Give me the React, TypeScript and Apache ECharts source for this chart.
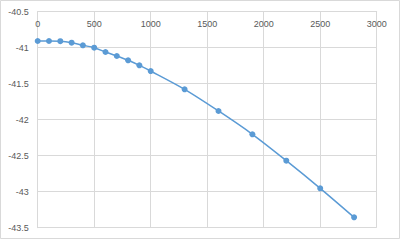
import React, { useEffect, useRef } from "react";
import * as echarts from "echarts";

const xValues = [0, 100, 200, 300, 400, 500, 600, 700, 800, 900, 1000, 1300, 1600, 1900, 2200, 2500, 2800];
const yValues = [-40.907, -40.907, -40.91, -40.93, -40.967, -41.0, -41.06, -41.115, -41.175, -41.245, -41.324, -41.578, -41.879, -42.203, -42.569, -42.953, -43.356];

export default function App() {
  const ref = useRef<HTMLDivElement>(null);
  useEffect(() => {
    const chart = echarts.init(ref.current!, null, { renderer: "svg" });
    const gridColor = "#d9d9d9";
    const labelStyle = { color: "#595959", fontSize: 9, fontFamily: "Liberation Sans, Arial, sans-serif" };
    chart.setOption({
      animation: false,
      backgroundColor: "#fff",
      graphic: [
        {
          type: "rect",
          shape: { x: 0.5, y: 0.5, width: 399, height: 238 },
          style: { fill: "none", stroke: gridColor, lineWidth: 1 },
          silent: true,
        },
      ],
      grid: { left: 37.7, right: 23.3, top: 11.7, bottom: 13.3, containLabel: false },
      xAxis: {
        type: "value",
        position: "top",
        min: 0,
        max: 3000,
        interval: 500,
        axisLine: { show: true, lineStyle: { color: gridColor } },
        axisTick: { show: false },
        axisLabel: { ...labelStyle, inside: true, margin: 8, formatter: (v: number) => String(v) },
        splitLine: { show: true, lineStyle: { color: gridColor } },
      },
      yAxis: {
        type: "value",
        min: -43.5,
        max: -40.5,
        interval: 0.5,
        axisLine: { show: true, lineStyle: { color: gridColor } },
        axisTick: { show: false },
        axisLabel: { ...labelStyle, margin: 9, formatter: (v: number) => String(v) },
        splitLine: { show: true, lineStyle: { color: gridColor } },
      },
      series: [
        {
          type: "line",
          data: xValues.map((x, i) => [x, yValues[i]]),
          smooth: 0.3,
          symbol: "circle",
          symbolSize: 6,
          itemStyle: { color: "#5b9bd5" },
          lineStyle: { color: "#5b9bd5", width: 1.5 },
        },
      ],
    });
    return () => chart.dispose();
  }, []);
  return <div ref={ref} style={{ position: "absolute", left: 0, top: 0, width: 400, height: 241 }} />;
}
